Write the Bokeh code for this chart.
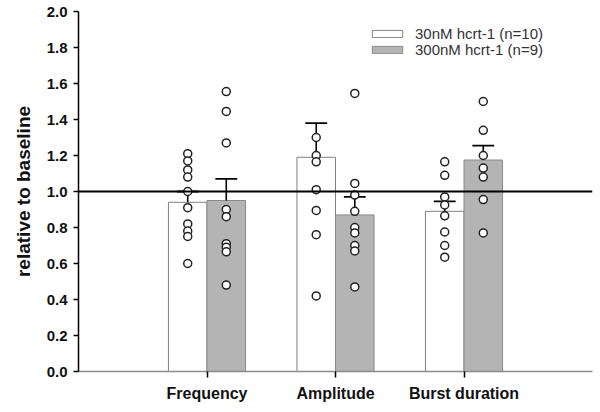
from bokeh.plotting import figure
from bokeh.models import Span, Legend, LegendItem, FixedTicker, Range1d
from bokeh.embed import file_html
from bokeh.resources import INLINE

categories = ["Frequency", "Amplitude", "Burst duration"]
cat_pos = [1, 2, 3]

mean_30 = [0.94, 1.19, 0.89]
sem_30 = [0.06, 0.19, 0.055]
mean_300 = [0.95, 0.87, 1.175]
sem_300 = [0.12, 0.10, 0.08]

pts_30 = [
    [1.21, 1.17, 1.12, 1.08, 1.00, 0.91, 0.82, 0.78, 0.75, 0.60],
    [1.30, 1.20, 1.165, 1.01, 0.895, 0.76, 0.42],
    [1.165, 1.09, 0.97, 0.925, 0.865, 0.775, 0.70, 0.635],
]
pts_300 = [
    [1.555, 1.445, 1.27, 0.90, 0.86, 0.71, 0.69, 0.665, 0.48],
    [1.545, 1.045, 0.98, 0.89, 0.80, 0.77, 0.70, 0.67, 0.47],
    [1.50, 1.34, 1.20, 1.13, 1.08, 0.955, 0.77],
]

y_ticks = [0.0, 0.2, 0.4, 0.6, 0.8, 1.0, 1.2, 1.4, 1.6, 1.8, 2.0]
label_30 = "30nM hcrt-1 (n=10)"
label_300 = "300nM hcrt-1 (n=9)"

off = 0.15
bw = 0.30
cap = 0.085

p = figure(width=594, height=408, output_backend="svg", toolbar_location=None,
           x_range=Range1d(0, 4), y_range=Range1d(0, 2.0),
           min_border_left=78, min_border_top=11, min_border_bottom=37, min_border_right=2)
p.outline_line_color = None
p.xgrid.visible = False
p.ygrid.visible = False
p.background_fill_color = "white"

x30 = [c - off for c in cat_pos]
x300 = [c + off for c in cat_pos]

r30 = p.vbar(x=x30, top=mean_30, width=bw, bottom=0, fill_color="white",
             line_color="#808080", line_width=1)
r300 = p.vbar(x=x300, top=mean_300, width=bw, bottom=0, fill_color="#b4b4b4",
              line_color="#8a8a8a", line_width=1)

p.add_layout(Span(location=1.0, dimension="width", line_color="black", line_width=2))

# error bars (upper only)
for xs, m, s in [(x30, mean_30, sem_30), (x300, mean_300, sem_300)]:
    tops = [a + b for a, b in zip(m, s)]
    p.segment(x0=xs, y0=m, x1=xs, y1=tops, line_color="black", line_width=1.6)
    p.segment(x0=[x - cap for x in xs], y0=tops, x1=[x + cap for x in xs], y1=tops,
              line_color="black", line_width=1.8)

# individual points
for xs, groups in [(x30, pts_30), (x300, pts_300)]:
    for x, vals in zip(xs, groups):
        p.scatter(x=[x] * len(vals), y=vals, size=8, marker="circle",
                  fill_color="white", line_color="#222222", line_width=1.5)

# axes
p.xaxis.ticker = FixedTicker(ticks=cat_pos)
p.xaxis.major_label_overrides = {c: n for c, n in zip(cat_pos, categories)}
p.xaxis.axis_line_color = "#8c8c8c"
p.xaxis.axis_line_width = 1.5
p.xaxis.major_tick_line_color = "black"
p.xaxis.major_tick_line_width = 1.5
p.xaxis.major_tick_out = 6
p.xaxis.major_tick_in = 0
p.xaxis.minor_tick_line_color = None
p.xaxis.major_label_text_font = "Liberation Sans"
p.xaxis.major_label_text_font_style = "bold"
p.xaxis.major_label_text_font_size = "16px"
p.xaxis.major_label_text_color = "#111111"
p.xaxis.major_label_standoff = 7

p.yaxis.ticker = FixedTicker(ticks=y_ticks)
p.yaxis.major_label_overrides = {t: f"{t:.1f}" for t in y_ticks}
p.yaxis.axis_line_color = "black"
p.yaxis.axis_line_width = 1.5
p.yaxis.major_tick_line_color = "black"
p.yaxis.major_tick_line_width = 1.5
p.yaxis.major_tick_out = 5
p.yaxis.major_tick_in = 0
p.yaxis.minor_tick_line_color = None
p.yaxis.major_label_text_font = "Liberation Sans"
p.yaxis.major_label_text_font_style = "bold"
p.yaxis.major_label_text_font_size = "15px"
p.yaxis.major_label_text_color = "#111111"
p.yaxis.major_label_standoff = 6
p.yaxis.axis_label = "relative to baseline"
p.yaxis.axis_label_text_font = "Liberation Sans"
p.yaxis.axis_label_text_font_style = "bold"
p.yaxis.axis_label_text_font_size = "19px"
p.yaxis.axis_label_text_color = "#111111"
p.yaxis.axis_label_standoff = 10

for item, r, loc in [(label_30, r30, (290, 329)), (label_300, r300, (290, 313))]:
    lg = Legend(items=[LegendItem(label=item, renderers=[r])], location=loc,
                glyph_width=38, glyph_height=9, label_standoff=9, label_height=9,
                padding=0, margin=0, spacing=0,
                label_text_font="Liberation Sans", label_text_font_size="15px",
                label_text_color="#333333", border_line_alpha=0,
                background_fill_alpha=0)
    p.add_layout(lg)

open("out.html", "w").write(file_html(p, INLINE))
